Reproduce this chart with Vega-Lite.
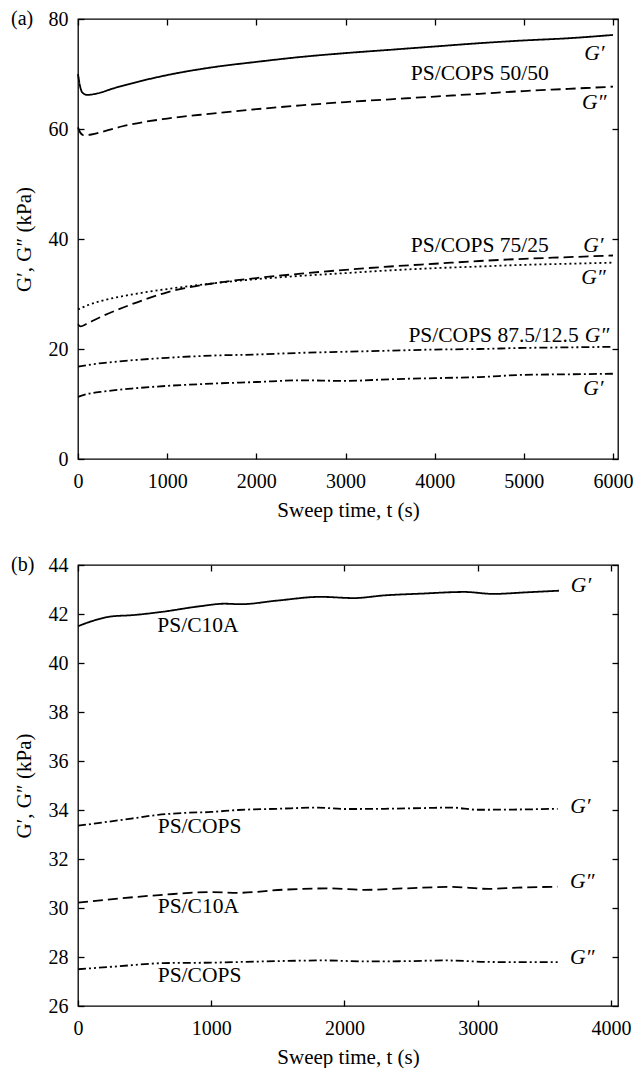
{
  "$schema": "https://vega.github.io/schema/vega-lite/v6.json",
  "padding": {"left": 10, "top": 8, "right": 2, "bottom": 2},
  "background": "white",
  "spacing": 33,
  "config": {
    "font": "Liberation Serif",
    "view": {"stroke": "black", "strokeWidth": 1.3},
    "axis": {"domain": false, "grid": false, "ticks": true, "tickColor": "black", "tickSize": 6, "offset": -6, "tickWidth": 1.3,
      "labelFont": "Liberation Serif", "labelFontSize": 20, "labelColor": "black", "labelPadding": 10, "format": "d", "labelFlush": false,
      "titleFont": "Liberation Serif", "titleFontSize": 21, "titleFontWeight": "normal", "titleColor": "black"},
    "axisBottom": {"labelPadding": 12, "titlePadding": 8},
    "axisLeft": {"titlePadding": 14},
    "text": {"font": "Liberation Serif", "color": "black"}
  },
  "datasets": {
    "a_lines": [
      {"series": "g1_5050", "style": "solid", "t": 0, "v": 70.0},
      {"series": "g1_5050", "style": "solid", "t": 20, "v": 68.0},
      {"series": "g1_5050", "style": "solid", "t": 50, "v": 66.6},
      {"series": "g1_5050", "style": "solid", "t": 100, "v": 66.2},
      {"series": "g1_5050", "style": "solid", "t": 200, "v": 66.4},
      {"series": "g1_5050", "style": "solid", "t": 400, "v": 67.4},
      {"series": "g1_5050", "style": "solid", "t": 700, "v": 68.7},
      {"series": "g1_5050", "style": "solid", "t": 1000, "v": 69.8},
      {"series": "g1_5050", "style": "solid", "t": 1500, "v": 71.2},
      {"series": "g1_5050", "style": "solid", "t": 2000, "v": 72.2},
      {"series": "g1_5050", "style": "solid", "t": 2500, "v": 73.1},
      {"series": "g1_5050", "style": "solid", "t": 3000, "v": 73.8},
      {"series": "g1_5050", "style": "solid", "t": 3500, "v": 74.4},
      {"series": "g1_5050", "style": "solid", "t": 4000, "v": 75.0},
      {"series": "g1_5050", "style": "solid", "t": 4500, "v": 75.6},
      {"series": "g1_5050", "style": "solid", "t": 5000, "v": 76.1},
      {"series": "g1_5050", "style": "solid", "t": 5500, "v": 76.5},
      {"series": "g1_5050", "style": "solid", "t": 6000, "v": 77.1},
      {"series": "g2_5050", "style": "dash", "t": 0, "v": 60.3},
      {"series": "g2_5050", "style": "dash", "t": 20, "v": 59.5},
      {"series": "g2_5050", "style": "dash", "t": 60, "v": 58.9},
      {"series": "g2_5050", "style": "dash", "t": 150, "v": 59.0},
      {"series": "g2_5050", "style": "dash", "t": 300, "v": 59.6},
      {"series": "g2_5050", "style": "dash", "t": 500, "v": 60.5},
      {"series": "g2_5050", "style": "dash", "t": 1000, "v": 61.9},
      {"series": "g2_5050", "style": "dash", "t": 1500, "v": 62.8},
      {"series": "g2_5050", "style": "dash", "t": 2000, "v": 63.6},
      {"series": "g2_5050", "style": "dash", "t": 2500, "v": 64.3},
      {"series": "g2_5050", "style": "dash", "t": 3000, "v": 64.9},
      {"series": "g2_5050", "style": "dash", "t": 3500, "v": 65.4},
      {"series": "g2_5050", "style": "dash", "t": 4000, "v": 65.9},
      {"series": "g2_5050", "style": "dash", "t": 4500, "v": 66.4},
      {"series": "g2_5050", "style": "dash", "t": 5000, "v": 66.9},
      {"series": "g2_5050", "style": "dash", "t": 5500, "v": 67.3},
      {"series": "g2_5050", "style": "dash", "t": 6000, "v": 67.7},
      {"series": "g2_7525", "style": "dot", "t": 0, "v": 27.2},
      {"series": "g2_7525", "style": "dot", "t": 100, "v": 27.9},
      {"series": "g2_7525", "style": "dot", "t": 250, "v": 28.7},
      {"series": "g2_7525", "style": "dot", "t": 500, "v": 29.6},
      {"series": "g2_7525", "style": "dot", "t": 750, "v": 30.3},
      {"series": "g2_7525", "style": "dot", "t": 1000, "v": 30.9},
      {"series": "g2_7525", "style": "dot", "t": 1500, "v": 31.9},
      {"series": "g2_7525", "style": "dot", "t": 2000, "v": 32.7},
      {"series": "g2_7525", "style": "dot", "t": 2500, "v": 33.3},
      {"series": "g2_7525", "style": "dot", "t": 3000, "v": 33.8},
      {"series": "g2_7525", "style": "dot", "t": 3500, "v": 34.3},
      {"series": "g2_7525", "style": "dot", "t": 4000, "v": 34.7},
      {"series": "g2_7525", "style": "dot", "t": 4500, "v": 35.0},
      {"series": "g2_7525", "style": "dot", "t": 5000, "v": 35.3},
      {"series": "g2_7525", "style": "dot", "t": 5500, "v": 35.5},
      {"series": "g2_7525", "style": "dot", "t": 6000, "v": 35.7},
      {"series": "g1_7525", "style": "dash", "t": 0, "v": 24.5},
      {"series": "g1_7525", "style": "dash", "t": 30, "v": 24.1},
      {"series": "g1_7525", "style": "dash", "t": 100, "v": 24.6},
      {"series": "g1_7525", "style": "dash", "t": 250, "v": 25.8},
      {"series": "g1_7525", "style": "dash", "t": 500, "v": 27.5},
      {"series": "g1_7525", "style": "dash", "t": 750, "v": 29.0},
      {"series": "g1_7525", "style": "dash", "t": 1000, "v": 30.3},
      {"series": "g1_7525", "style": "dash", "t": 1500, "v": 31.9},
      {"series": "g1_7525", "style": "dash", "t": 2000, "v": 32.9},
      {"series": "g1_7525", "style": "dash", "t": 2500, "v": 33.7},
      {"series": "g1_7525", "style": "dash", "t": 3000, "v": 34.4},
      {"series": "g1_7525", "style": "dash", "t": 3500, "v": 35.0},
      {"series": "g1_7525", "style": "dash", "t": 4000, "v": 35.5},
      {"series": "g1_7525", "style": "dash", "t": 4500, "v": 36.0},
      {"series": "g1_7525", "style": "dash", "t": 5000, "v": 36.4},
      {"series": "g1_7525", "style": "dash", "t": 5500, "v": 36.7},
      {"series": "g1_7525", "style": "dash", "t": 6000, "v": 37.0},
      {"series": "g2_875", "style": "dashdotdot", "t": 0, "v": 16.8},
      {"series": "g2_875", "style": "dashdotdot", "t": 200, "v": 17.3},
      {"series": "g2_875", "style": "dashdotdot", "t": 500, "v": 17.8},
      {"series": "g2_875", "style": "dashdotdot", "t": 1000, "v": 18.4},
      {"series": "g2_875", "style": "dashdotdot", "t": 1500, "v": 18.8},
      {"series": "g2_875", "style": "dashdotdot", "t": 2000, "v": 19.0},
      {"series": "g2_875", "style": "dashdotdot", "t": 2500, "v": 19.3},
      {"series": "g2_875", "style": "dashdotdot", "t": 3000, "v": 19.5},
      {"series": "g2_875", "style": "dashdotdot", "t": 3500, "v": 19.7},
      {"series": "g2_875", "style": "dashdotdot", "t": 4000, "v": 19.9},
      {"series": "g2_875", "style": "dashdotdot", "t": 4500, "v": 20.0},
      {"series": "g2_875", "style": "dashdotdot", "t": 5000, "v": 20.2},
      {"series": "g2_875", "style": "dashdotdot", "t": 5500, "v": 20.3},
      {"series": "g2_875", "style": "dashdotdot", "t": 6000, "v": 20.4},
      {"series": "g1_875", "style": "dashdot", "t": 0, "v": 11.3},
      {"series": "g1_875", "style": "dashdot", "t": 100, "v": 11.8},
      {"series": "g1_875", "style": "dashdot", "t": 300, "v": 12.3},
      {"series": "g1_875", "style": "dashdot", "t": 600, "v": 12.8},
      {"series": "g1_875", "style": "dashdot", "t": 1000, "v": 13.3},
      {"series": "g1_875", "style": "dashdot", "t": 1500, "v": 13.7},
      {"series": "g1_875", "style": "dashdot", "t": 2000, "v": 14.0},
      {"series": "g1_875", "style": "dashdot", "t": 2500, "v": 14.3},
      {"series": "g1_875", "style": "dashdot", "t": 3000, "v": 14.2},
      {"series": "g1_875", "style": "dashdot", "t": 3500, "v": 14.5},
      {"series": "g1_875", "style": "dashdot", "t": 4000, "v": 14.7},
      {"series": "g1_875", "style": "dashdot", "t": 4500, "v": 14.9},
      {"series": "g1_875", "style": "dashdot", "t": 5000, "v": 15.3},
      {"series": "g1_875", "style": "dashdot", "t": 5500, "v": 15.4},
      {"series": "g1_875", "style": "dashdot", "t": 6000, "v": 15.5}
    ],
    "a_labels": [
      {"kind": "g", "label": "G′", "t": 5790, "v": 73.6},
      {"kind": "name", "label": "PS/COPS 50/50", "t": 4506, "v": 70.0},
      {"kind": "g", "label": "G″", "t": 5790, "v": 64.8},
      {"kind": "name", "label": "PS/COPS 75/25", "t": 4506, "v": 38.7},
      {"kind": "g", "label": "G′", "t": 5780, "v": 38.7},
      {"kind": "g", "label": "G″", "t": 5780, "v": 33.0},
      {"kind": "name", "label": "PS/COPS 87.5/12.5", "t": 4660, "v": 22.4},
      {"kind": "g", "label": "G″", "t": 5820, "v": 22.4},
      {"kind": "g", "label": "G′", "t": 5780, "v": 12.7}
    ],
    "b_lines": [
      {"series": "g1_c10a", "style": "solid", "t": 0, "v": 41.5},
      {"series": "g1_c10a", "style": "solid", "t": 100, "v": 41.7},
      {"series": "g1_c10a", "style": "solid", "t": 250, "v": 41.9},
      {"series": "g1_c10a", "style": "solid", "t": 400, "v": 41.95},
      {"series": "g1_c10a", "style": "solid", "t": 620, "v": 42.08},
      {"series": "g1_c10a", "style": "solid", "t": 920, "v": 42.32},
      {"series": "g1_c10a", "style": "solid", "t": 1100, "v": 42.42},
      {"series": "g1_c10a", "style": "solid", "t": 1220, "v": 42.4},
      {"series": "g1_c10a", "style": "solid", "t": 1500, "v": 42.55},
      {"series": "g1_c10a", "style": "solid", "t": 1820, "v": 42.7},
      {"series": "g1_c10a", "style": "solid", "t": 2070, "v": 42.65},
      {"series": "g1_c10a", "style": "solid", "t": 2300, "v": 42.76},
      {"series": "g1_c10a", "style": "solid", "t": 2570, "v": 42.83},
      {"series": "g1_c10a", "style": "solid", "t": 2900, "v": 42.9},
      {"series": "g1_c10a", "style": "solid", "t": 3120, "v": 42.82},
      {"series": "g1_c10a", "style": "solid", "t": 3350, "v": 42.88},
      {"series": "g1_c10a", "style": "solid", "t": 3610, "v": 42.95},
      {"series": "g1_cops", "style": "dashdot", "t": 0, "v": 33.36},
      {"series": "g1_cops", "style": "dashdot", "t": 200, "v": 33.5},
      {"series": "g1_cops", "style": "dashdot", "t": 400, "v": 33.65},
      {"series": "g1_cops", "style": "dashdot", "t": 600, "v": 33.8},
      {"series": "g1_cops", "style": "dashdot", "t": 800, "v": 33.88},
      {"series": "g1_cops", "style": "dashdot", "t": 1000, "v": 33.92},
      {"series": "g1_cops", "style": "dashdot", "t": 1200, "v": 34.0},
      {"series": "g1_cops", "style": "dashdot", "t": 1500, "v": 34.05},
      {"series": "g1_cops", "style": "dashdot", "t": 1800, "v": 34.1},
      {"series": "g1_cops", "style": "dashdot", "t": 2000, "v": 34.04},
      {"series": "g1_cops", "style": "dashdot", "t": 2300, "v": 34.05},
      {"series": "g1_cops", "style": "dashdot", "t": 2600, "v": 34.08},
      {"series": "g1_cops", "style": "dashdot", "t": 2800, "v": 34.1},
      {"series": "g1_cops", "style": "dashdot", "t": 3000, "v": 34.01},
      {"series": "g1_cops", "style": "dashdot", "t": 3300, "v": 34.02},
      {"series": "g1_cops", "style": "dashdot", "t": 3600, "v": 34.05},
      {"series": "g2_c10a", "style": "dash", "t": 0, "v": 30.22},
      {"series": "g2_c10a", "style": "dash", "t": 330, "v": 30.4},
      {"series": "g2_c10a", "style": "dash", "t": 640, "v": 30.54},
      {"series": "g2_c10a", "style": "dash", "t": 1000, "v": 30.65},
      {"series": "g2_c10a", "style": "dash", "t": 1200, "v": 30.62},
      {"series": "g2_c10a", "style": "dash", "t": 1550, "v": 30.75},
      {"series": "g2_c10a", "style": "dash", "t": 1900, "v": 30.8},
      {"series": "g2_c10a", "style": "dash", "t": 2150, "v": 30.74},
      {"series": "g2_c10a", "style": "dash", "t": 2450, "v": 30.8},
      {"series": "g2_c10a", "style": "dash", "t": 2800, "v": 30.86},
      {"series": "g2_c10a", "style": "dash", "t": 3080, "v": 30.78},
      {"series": "g2_c10a", "style": "dash", "t": 3300, "v": 30.83},
      {"series": "g2_c10a", "style": "dash", "t": 3600, "v": 30.87},
      {"series": "g2_cops", "style": "dashdotdot", "t": 0, "v": 27.5},
      {"series": "g2_cops", "style": "dashdotdot", "t": 300, "v": 27.62},
      {"series": "g2_cops", "style": "dashdotdot", "t": 640, "v": 27.75},
      {"series": "g2_cops", "style": "dashdotdot", "t": 1000, "v": 27.77},
      {"series": "g2_cops", "style": "dashdotdot", "t": 1400, "v": 27.82},
      {"series": "g2_cops", "style": "dashdotdot", "t": 1850, "v": 27.86},
      {"series": "g2_cops", "style": "dashdotdot", "t": 2150, "v": 27.82},
      {"series": "g2_cops", "style": "dashdotdot", "t": 2460, "v": 27.83},
      {"series": "g2_cops", "style": "dashdotdot", "t": 2760, "v": 27.86},
      {"series": "g2_cops", "style": "dashdotdot", "t": 3070, "v": 27.8},
      {"series": "g2_cops", "style": "dashdotdot", "t": 3300, "v": 27.79},
      {"series": "g2_cops", "style": "dashdotdot", "t": 3600, "v": 27.79}
    ],
    "b_labels": [
      {"kind": "g", "label": "G′", "t": 3775, "v": 43.13},
      {"kind": "name", "label": "PS/C10A", "t": 900, "v": 41.5},
      {"kind": "g", "label": "G′", "t": 3770, "v": 34.14},
      {"kind": "name", "label": "PS/COPS", "t": 912, "v": 33.32},
      {"kind": "g", "label": "G″", "t": 3784, "v": 31.05},
      {"kind": "name", "label": "PS/C10A", "t": 903, "v": 30.03},
      {"kind": "g", "label": "G″", "t": 3784, "v": 27.95},
      {"kind": "name", "label": "PS/COPS", "t": 912, "v": 27.23}
    ]
  },
  "vconcat": [
    {
      "width": 540,
      "height": 440,
      "title": {"text": "(a)", "anchor": "start", "frame": "group", "dx": -67, "dy": 30, "offset": 0, "baseline": "middle", "fontSize": 20, "fontWeight": "normal", "font": "Liberation Serif", "color": "black"},
      "resolve": {"axis": {"x": "independent", "y": "independent"}},
      "layer": [
        {
          "data": {"name": "a_lines"},
          "mark": {"type": "line", "strokeWidth": 1.8, "color": "black", "interpolate": "monotone"},
          "encoding": {
            "x": {"field": "t", "type": "quantitative", "scale": {"domain": [0, 6056], "nice": false},
              "axis": {"orient": "bottom", "values": [0, 1000, 2000, 3000, 4000, 5000, 6000], "title": "Sweep time, t (s)"}},
            "y": {"field": "v", "type": "quantitative", "scale": {"domain": [0, 80], "nice": false},
              "axis": {"orient": "left", "values": [0, 20, 40, 60, 80], "title": "G′, G″ (kPa)"}},
            "detail": {"field": "series"},
            "strokeDash": {"field": "style", "type": "nominal",
              "scale": {"domain": ["solid", "dash", "dot", "dashdot", "dashdotdot"], "range": [[1, 0], [10, 5], [2, 3], [8, 3, 2, 3], [8, 3, 2, 3, 2, 3]]},
              "legend": null}
          }
        },
        {
          "data": {"name": "a_labels"},
          "transform": [{"filter": "datum.kind == 'g'"}],
          "mark": {"type": "text", "fontStyle": "italic", "fontSize": 21.5, "baseline": "middle", "align": "center"},
          "encoding": {
            "x": {"field": "t", "type": "quantitative", "axis": {"orient": "top", "labels": false, "title": null, "values": [0, 1000, 2000, 3000, 4000, 5000, 6000]}},
            "y": {"field": "v", "type": "quantitative", "axis": {"orient": "right", "labels": false, "title": null, "values": [0, 20, 40, 60, 80]}},
            "text": {"field": "label"}
          }
        },
        {
          "data": {"name": "a_labels"},
          "transform": [{"filter": "datum.kind == 'name'"}],
          "mark": {"type": "text", "fontSize": 21.5, "baseline": "middle", "align": "center"},
          "encoding": {
            "x": {"field": "t", "type": "quantitative", "axis": null},
            "y": {"field": "v", "type": "quantitative", "axis": null},
            "text": {"field": "label"}
          }
        }
      ]
    },
    {
      "width": 540,
      "height": 441,
      "title": {"text": "(b)", "anchor": "start", "frame": "group", "dx": -67, "dy": 30, "offset": 0, "baseline": "middle", "fontSize": 20, "fontWeight": "normal", "font": "Liberation Serif", "color": "black"},
      "resolve": {"axis": {"x": "independent", "y": "independent"}},
      "layer": [
        {
          "data": {"name": "b_lines"},
          "mark": {"type": "line", "strokeWidth": 1.8, "color": "black", "interpolate": "monotone"},
          "encoding": {
            "x": {"field": "t", "type": "quantitative", "scale": {"domain": [0, 4053], "nice": false},
              "axis": {"orient": "bottom", "values": [0, 1000, 2000, 3000, 4000], "title": "Sweep time, t (s)"}},
            "y": {"field": "v", "type": "quantitative", "scale": {"domain": [26, 44], "nice": false, "zero": false},
              "axis": {"orient": "left", "values": [26, 28, 30, 32, 34, 36, 38, 40, 42, 44], "title": "G′, G″ (kPa)"}},
            "detail": {"field": "series"},
            "strokeDash": {"field": "style", "type": "nominal",
              "scale": {"domain": ["solid", "dash", "dot", "dashdot", "dashdotdot"], "range": [[1, 0], [10, 5], [2, 3], [8, 3, 2, 3], [8, 3, 2, 3, 2, 3]]},
              "legend": null}
          }
        },
        {
          "data": {"name": "b_labels"},
          "transform": [{"filter": "datum.kind == 'g'"}],
          "mark": {"type": "text", "fontStyle": "italic", "fontSize": 21.5, "baseline": "middle", "align": "center"},
          "encoding": {
            "x": {"field": "t", "type": "quantitative", "axis": {"orient": "top", "labels": false, "title": null, "values": [0, 1000, 2000, 3000, 4000]}},
            "y": {"field": "v", "type": "quantitative", "axis": {"orient": "right", "labels": false, "title": null, "values": [26, 28, 30, 32, 34, 36, 38, 40, 42, 44]}},
            "text": {"field": "label"}
          }
        },
        {
          "data": {"name": "b_labels"},
          "transform": [{"filter": "datum.kind == 'name'"}],
          "mark": {"type": "text", "fontSize": 21.5, "baseline": "middle", "align": "center"},
          "encoding": {
            "x": {"field": "t", "type": "quantitative", "axis": null},
            "y": {"field": "v", "type": "quantitative", "axis": null},
            "text": {"field": "label"}
          }
        }
      ]
    }
  ]
}
